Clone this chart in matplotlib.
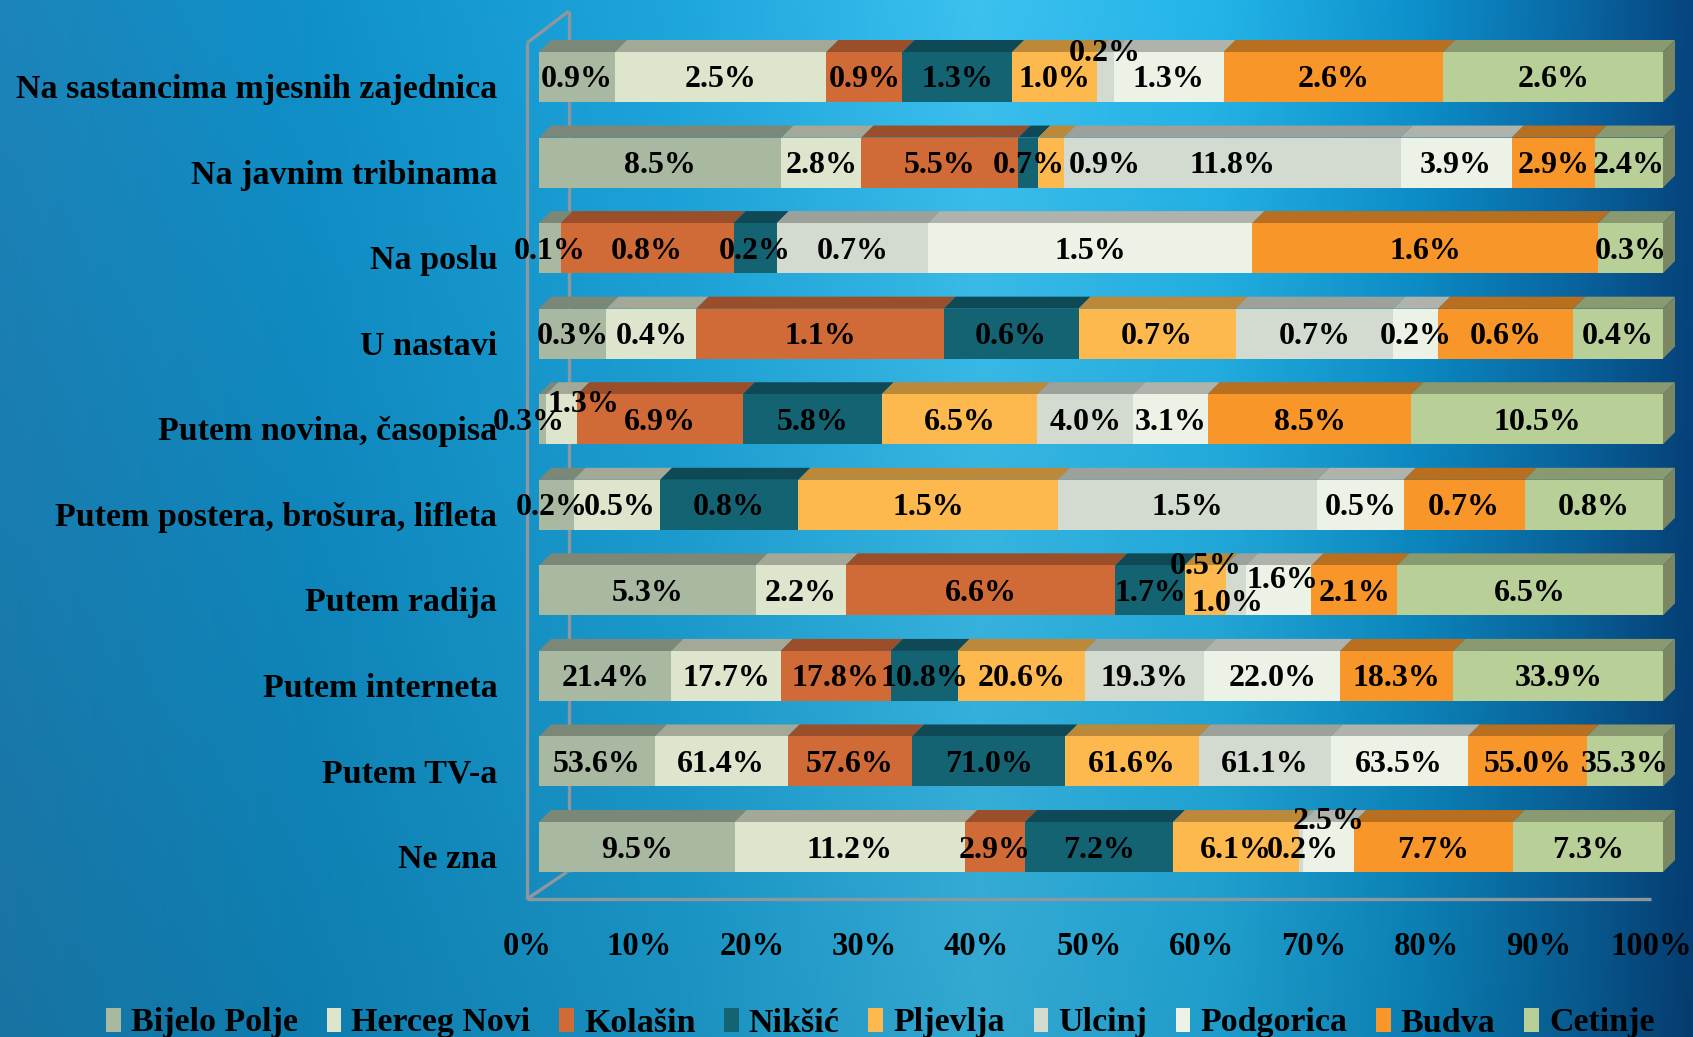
import numpy as np
import matplotlib
matplotlib.use('Agg')
import matplotlib.pyplot as plt
from matplotlib.patches import Polygon, Patch
from matplotlib.colors import LinearSegmentedColormap, to_rgb
import matplotlib.transforms as mtransforms

# ---------------- data ----------------
categories = ["Na sastancima mjesnih zajednica", "Na javnim tribinama", "Na poslu",
              "U nastavi", "Putem novina, časopisa", "Putem postera, brošura, lifleta",
              "Putem radija", "Putem interneta", "Putem TV-a", "Ne zna"]
cities = ["Bijelo Polje", "Herceg Novi", "Kolašin", "Nikšić", "Pljevlja",
          "Ulcinj", "Podgorica", "Budva", "Cetinje"]

bijelo_polje = [0.9, 8.5, 0.1, 0.3, 0.3, 0.2, 5.3, 21.4, 53.6, 9.5]
herceg_novi  = [2.5, 2.8, 0.0, 0.4, 1.3, 0.5, 2.2, 17.7, 61.4, 11.2]
kolasin      = [0.9, 5.5, 0.8, 1.1, 6.9, 0.0, 6.6, 17.8, 57.6, 2.9]
niksic       = [1.3, 0.7, 0.2, 0.6, 5.8, 0.8, 1.7, 10.8, 71.0, 7.2]
pljevlja     = [1.0, 0.9, 0.0, 0.7, 6.5, 1.5, 1.0, 20.6, 61.6, 6.1]
ulcinj       = [0.2, 11.8, 0.7, 0.7, 4.0, 1.5, 0.5, 19.3, 61.1, 0.2]
podgorica    = [1.3, 3.9, 1.5, 0.2, 3.1, 0.5, 1.6, 22.0, 63.5, 2.5]
budva        = [2.6, 2.9, 1.6, 0.6, 8.5, 0.7, 2.1, 18.3, 55.0, 7.7]
cetinje      = [2.6, 2.4, 0.3, 0.4, 10.5, 0.8, 6.5, 33.9, 35.3, 7.3]

x_ticks = [0, 10, 20, 30, 40, 50, 60, 70, 80, 90, 100]
x_tick_labels = ["0%", "10%", "20%", "30%", "40%", "50%", "60%", "70%", "80%", "90%", "100%"]

series = [bijelo_polje, herceg_novi, kolasin, niksic, pljevlja, ulcinj, podgorica, budva, cetinje]

# ---------------- style ----------------
colors = ["#A8B8A1", "#DDE5CC", "#D06A37", "#136373", "#FDB94D",
          "#D3DAD0", "#EDF2E7", "#F9962A", "#B9CF98"]
side_color = "#7B8662"
frame_color = "#8E979D"
FONT = "Liberation Serif"

# label offsets in pixels (dx right, dy down) for crowded labels
label_offsets = {(0, 5): (0, -26), (1, 4): (54, 0), (4, 0): (-14, 0), (4, 1): (22, -18),
                 (5, 0): (-5, 0), (5, 1): (3, 0),
                 (6, 4): (22, 10), (6, 5): (-30, -27), (6, 6): (4, -13),
                 (9, 5): (2, 0), (9, 6): (0, -29)}
base_dy = 3

W, H = 1693, 1037
DPI = 100
fig = plt.figure(figsize=(W / DPI, H / DPI), dpi=DPI)

# ---------------- background gradient ----------------
bg = fig.add_axes([0, 0, 1, 1], zorder=-10)
hstops = [(0.00, "#1A7DB0"), (0.18, "#0F88BE"), (0.40, "#1C9DD0"), (0.58, "#38B6E2"),
          (0.72, "#22AADB"), (0.84, "#0C88C0"), (0.93, "#09639C"), (1.00, "#064279")]
hcmap = LinearSegmentedColormap.from_list("h", hstops)
xs = np.linspace(0, 1, 400)
ys = np.linspace(0, 1, 250)
row = hcmap(xs)[:, :3]
img = np.empty((len(ys), len(xs), 3))
for i, v in enumerate(ys):
    fac = 1.06 - 0.14 * v
    img[i] = np.clip(row * fac, 0, 1)
bg.imshow(img, extent=[0, W, H, 0], aspect='auto', interpolation='bilinear')
bg.set_xlim(0, W)
bg.set_ylim(H, 0)
bg.axis('off')

# 3D frame lines (pixel coordinates of the layout)
lw = 2.4
for (x0, y0, x1, y1) in [(527, 43, 527, 899), (527, 899, 1651, 899), (527, 43, 569, 11),
                         (569, 11, 569, 872), (527, 899, 567, 872)]:
    bg.plot([x0, x1], [y0, y1], color=frame_color, lw=lw, solid_capstyle='butt')

# ---------------- main axes ----------------
ax_left, ax_right = 539, 1663
ax_top, ax_bot = 34.2, 889.8
ax = fig.add_axes([ax_left / W, 1 - ax_bot / H, (ax_right - ax_left) / W, (ax_bot - ax_top) / H])
ax.set_facecolor('none')
ax.set_xlim(0, 100)
ax.set_ylim(len(categories) - 0.5, -0.5)

data = np.array(series)            # shape (cities, categories)
totals = data.sum(axis=0)
shares = data / totals * 100

bar_h = 0.584
px_x = 100 / (ax_right - ax_left)
px_y = 1 / ((ax_bot - ax_top) / len(categories))
dx = 12 * px_x
dy = 12 * px_y

ypos = np.arange(len(categories))
left = np.zeros(len(categories))
for si, (name, col) in enumerate(zip(cities, colors)):
    vals = shares[si]
    ax.barh(ypos, vals, left=left, height=bar_h, color=col, edgecolor='none', zorder=3)
    dark = tuple(c * 0.74 for c in to_rgb(col))
    for ri in range(len(categories)):
        if data[si, ri] <= 0:
            continue
        x0, x1 = left[ri], left[ri] + vals[ri]
        yt = ypos[ri] - bar_h / 2
        ax.add_patch(Polygon([(x0, yt), (x1, yt), (x1 + dx, yt - dy), (x0 + dx, yt - dy)],
                             closed=True, facecolor=dark, edgecolor='none', zorder=2,
                             clip_on=False))
        ox, oy = label_offsets.get((ri, si), (0, 0))
        tr = mtransforms.offset_copy(ax.transData, fig=fig, x=ox, y=-(oy + base_dy), units='dots')
        ax.text((x0 + x1) / 2, ypos[ri], f"{data[si, ri]:.1f}%", transform=tr,
                ha='center', va='center', fontsize=23, fontweight='bold',
                family=FONT, color='black', zorder=6)
    left = left + vals

# right side faces
for ri in range(len(categories)):
    yt = ypos[ri] - bar_h / 2
    yb = ypos[ri] + bar_h / 2
    ax.add_patch(Polygon([(left[ri], yt), (left[ri] + dx, yt - dy), (left[ri] + dx, yb - dy),
                          (left[ri], yb)], closed=True, facecolor=side_color,
                         edgecolor='none', zorder=2, clip_on=False))

for sp in ax.spines.values():
    sp.set_visible(False)

ax.set_yticks(ypos)
ax.set_yticklabels(categories, fontsize=24.5, fontweight='bold', family=FONT)
ax.set_xticks(x_ticks)
ax.set_xticklabels(x_tick_labels, fontsize=23.5, fontweight='bold', family=FONT)
ax.tick_params(axis='both', length=0)
ax.tick_params(axis='x', pad=30)
ax.tick_params(axis='y', pad=30)
for lab in ax.get_xticklabels():
    lab.set_transform(lab.get_transform() + mtransforms.ScaledTranslation(-12 / DPI, 0, fig.dpi_scale_trans))
for lab in ax.get_yticklabels():
    lab.set_transform(lab.get_transform() + mtransforms.ScaledTranslation(0, -9 / DPI, fig.dpi_scale_trans))

# ---------------- legend ----------------
handles = [Patch(facecolor=c, edgecolor='none') for c in colors]
fig.legend(handles, cities, loc='center', bbox_to_anchor=(0.52, 1 - 1023 / H), ncol=9,
           frameon=False, handlelength=0.42, handleheight=0.7, handletextpad=0.3,
           columnspacing=0.85, prop={'family': FONT, 'weight': 'bold', 'size': 24.5},
           borderaxespad=0)

fig.savefig("out.png", dpi=DPI)
